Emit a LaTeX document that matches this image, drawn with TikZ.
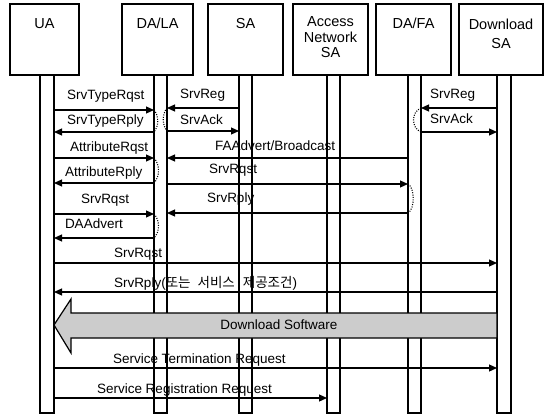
\documentclass[tikz,border=0pt]{standalone}
\usepackage{fontspec}
\setmainfont{Liberation Sans}
\newfontfamily\krfont{Noto Sans CJK KR}
\usetikzlibrary{arrows.meta,calc}
\definecolor{bandgray}{gray}{0.8}

\begin{document}
\begin{tikzpicture}[x=1pt,y=-1pt,
  every node/.style={inner sep=0pt, outer sep=0pt},
  headbox/.style={draw, line width=1.3pt, anchor=north west, minimum height=71pt},
  headtext/.style={anchor=base, font=\fontsize{14.5}{17}\selectfont},
  lifebar/.style={draw, line width=1.3pt, anchor=north west, minimum height=338pt},
  msg/.style={line width=1.2pt, -{Triangle[length=8pt,width=7pt]}},
  msglabel/.style={anchor=base west, font=\fontsize{13.5}{16}\selectfont},
  reply/.style={line width=1.1pt, dash pattern=on 1pt off 1.4pt},
  band/.style={draw, line width=1.2pt, fill=bandgray, line join=miter}
]
\useasboundingbox (0,0) rectangle (544,415);

% header boxes
\node[headbox, minimum width=69pt] (uabox)   at (10,4)  {};
\node[headbox, minimum width=71pt] (dalabox) at (122,4) {};
\node[headbox, minimum width=75pt] (sabox)   at (208,4) {};
\node[headbox, minimum width=75pt] (anbox)   at (293,4) {};
\node[headbox, minimum width=75pt] (dafabox) at (376,4) {};
\node[headbox, minimum width=84pt] (dlbox)   at (459,4) {};

\node[headtext] (uatext)   at ($(uabox.north)+(0,24)$)   {UA};
\node[headtext] (dalatext) at ($(dalabox.north)+(0,24)$) {DA/LA};
\node[headtext] (satext)   at ($(sabox.north)+(0,24)$)   {SA};
\node[headtext] (antext1)  at ($(anbox.north)+(0,22.5)$) {Access};
\node[headtext] (antext2)  at ($(anbox.north)+(0,38)$)   {Network};
\node[headtext] (antext3)  at ($(anbox.north)+(0,53.5)$) {SA};
\node[headtext] (dafatext) at ($(dafabox.north)+(0,24)$) {DA/FA};
\node[headtext] (dltext1)  at ($(dlbox.north)+(0,26)$)   {Download};
\node[headtext] (dltext2)  at ($(dlbox.north)+(0,44)$)   {SA};

% life lines
\node[lifebar, minimum width=14pt] (ua)   at (40,75)  {};
\node[lifebar, minimum width=13pt] (dala) at (154,75) {};
\node[lifebar, minimum width=13pt] (sa)   at (239,75) {};
\node[lifebar, minimum width=13pt] (an)   at (327,75) {};
\node[lifebar, minimum width=13pt] (dafa) at (408,75) {};
\node[lifebar, minimum width=14pt] (dl)   at (497,75) {};

% message rows
\coordinate (rA) at (0,110);  % SrvTypeRqst
\coordinate (rB) at (0,108);  % SrvReg
\coordinate (rC) at (0,132);  % SrvTypeRply
\coordinate (rD) at (0,131);  % SrvAck
\coordinate (rE) at (0,158);  % AttributeRqst, FAAdvert
\coordinate (rF) at (0,183);  % AttributeRply
\coordinate (rG) at (0,184);  % SrvRqst to DA/FA
\coordinate (rH) at (0,214);  % SrvRqst to DA/LA
\coordinate (rI) at (0,213);  % SrvRply from DA/FA
\coordinate (rJ) at (0,238);  % DAAdvert
\coordinate (rK) at (0,263);  % SrvRqst to Download SA
\coordinate (rL) at (0,292);  % SrvRply to UA
\coordinate (rM) at (0,368);  % Service Termination Request
\coordinate (rN) at (0,398);  % Service Registration Request
\coordinate (rO) at (0,108);  % SrvReg at DA/FA
\coordinate (rP) at (0,132);  % SrvAck from DA/FA

% messages
\draw[msg] (ua.east |- rA) -- (dala.west |- rA);
\node[msglabel] (lA) at (67,99) {SrvTypeRqst};
\draw[msg] (sa.west |- rB) -- (dala.east |- rB);
\node[msglabel] (lB) at (180,98) {SrvReg};
\draw[msg] (dala.west |- rC) -- (ua.east |- rC);
\node[msglabel] (lC) at (67,124) {SrvTypeRply};
\draw[msg] (dala.east |- rD) -- (sa.west |- rD);
\node[msglabel] (lD) at (180,124) {SrvAck};
\draw[msg] (ua.east |- rE) -- (dala.west |- rE);
\node[msglabel] (lE) at (70,151) {AttributeRqst};
\draw[msg] (dafa.west |- rE) -- (dala.east |- rE);
\node[msglabel] (lE2) at (215,150) {FAAdvert/Broadcast};
\draw[msg] (dala.west |- rF) -- (ua.east |- rF);
\node[msglabel] (lF) at (65,176) {AttributeRply};
\draw[msg] (dala.east |- rG) -- (dafa.west |- rG);
\node[msglabel] (lG) at (209,173) {SrvRqst};
\draw[msg] (ua.east |- rH) -- (dala.west |- rH);
\node[msglabel] (lH) at (81,203) {SrvRqst};
\draw[msg] (dafa.west |- rI) -- (dala.east |- rI);
\node[msglabel] (lI) at (207,202) {SrvRply};
\draw[msg] (dala.west |- rJ) -- (ua.east |- rJ);
\node[msglabel] (lJ) at (65,228) {DAAdvert};
\draw[msg] (ua.east |- rK) -- (dl.west |- rK);
\node[msglabel] (lK) at (114,257) {SrvRqst};
\draw[msg] (dl.west |- rL) -- (ua.east |- rL);
\node[msglabel] (lL) at (114,287) {SrvRply({\krfont\fontsize{13.5}{16}\selectfont 또는\hspace{7pt}서비스\hspace{8pt}제공조건})};
\draw[msg] (ua.east |- rM) -- (dl.west |- rM);
\node[msglabel] (lM) at (113,363) {Service Termination Request};
\draw[msg] (ua.east |- rN) -- (an.west |- rN);
\node[msglabel] (lN) at (97,393) {Service Registration Request};
\draw[msg] (dl.west |- rO) -- (dafa.east |- rO);
\node[msglabel] (lO) at (430,98) {SrvReg};
\draw[msg] (dafa.east |- rP) -- (dl.west |- rP);
\node[msglabel] (lP) at (430,123) {SrvAck};

% processing links inside the agents
\draw[reply] (dala.west |- rA) .. controls +(5,6) and +(5,-6) .. (dala.west |- rC);
\draw[reply] (dala.east |- rB) .. controls +(-5,6) and +(-5,-6) .. (dala.east |- rD);
\draw[reply] (dala.west |- rE) .. controls +(6,6) and +(6,-6) .. (dala.west |- rF);
\draw[reply] (dala.west |- rH) .. controls +(6,6) and +(6,-6) .. (dala.west |- rJ);
\draw[reply] (dafa.east |- rO) .. controls +(-10,4) and +(-10,-4) .. (dafa.east |- rP);
\draw[reply] (dafa.west |- rG) .. controls +(7,4) and +(7,-4) .. (dafa.west |- rI);

% bulk transfer arrow
\coordinate (bt) at (0,325);
\draw[band] (ua.east |- bt) -- (71,299) -- (71,313) -- (dl.west |- 0,313)
  -- (dl.west |- 0,338) -- (71,338) -- (71,353) -- cycle;
\node[font=\fontsize{13.5}{16}\selectfont] (bandtext) at (279,325) {Download Software};
\end{tikzpicture}
\end{document}
